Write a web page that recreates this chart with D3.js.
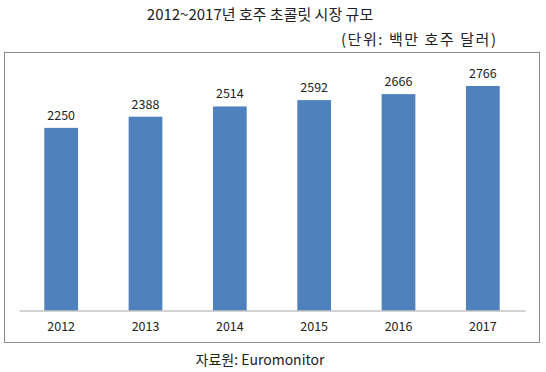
<!DOCTYPE html>
<html>
<head>
<meta charset="utf-8">
<script src="https://cdn.jsdelivr.net/npm/d3@7"></script>
<style>
body { margin:0; background:#fff; }
text { font-family: "Noto Sans CJK KR", "Noto Sans", sans-serif; fill:#222; }
</style>
</head>
<body>
<svg id="chart"></svg>
<script>
var years = ["2012","2013","2014","2015","2016","2017"]
var values = [2250,2388,2514,2592,2666,2766]
var title = "2012~2017년 호주 초콜릿 시장 규모"
var unit = "(단위: 백만 호주 달러)"
var source = "자료원: Euromonitor"

var screen = {width:546,height:372}
var svg = d3.select("#chart")
    .attr("width",screen.width)
    .attr("height",screen.height)

// outer frame
svg.append("rect")
    .attr("x",4.5).attr("y",52.5)
    .attr("width",535).attr("height",290)
    .attr("fill","none")
    .attr("stroke","#8c8c8c")

var xscale = d3.scaleBand()
    .domain(years)
    .range([19,525])
    .paddingInner(0.6)
    .paddingOuter(0.3)

var yscale = d3.scaleLinear()
    .domain([0,3000])
    .range([310.5,67])

svg.selectAll(".bar")
    .data(values)
    .enter()
    .append("rect")
    .attr("class","bar")
    .attr("x",function(d,i){ return xscale(years[i]) })
    .attr("y",function(d){ return yscale(d) })
    .attr("width",xscale.bandwidth())
    .attr("height",function(d){ return yscale(0)-yscale(d) })
    .attr("fill","#4f81bd")

svg.selectAll(".val")
    .data(values)
    .enter()
    .append("text")
    .attr("class","val")
    .attr("x",function(d,i){ return xscale(years[i])+xscale.bandwidth()/2 })
    .attr("y",function(d){ return yscale(d)-8 })
    .attr("text-anchor","middle")
    .attr("font-size","12.5px")
    .text(function(d){ return d })

var xaxis = svg.append("g")
    .attr("transform","translate(0,310.5)")
    .call(d3.axisBottom(xscale).tickSize(0).tickPadding(12))
xaxis.select(".domain").attr("stroke","#a6a6a6")
xaxis.selectAll("text")
    .attr("font-size","12.5px")
    .attr("fill","#222")
    .style("font-family","'Noto Sans CJK KR', sans-serif")

svg.append("text")
    .attr("x",260).attr("y",19.5)
    .attr("text-anchor","middle")
    .attr("font-size","15px")
    .text(title)

// unit note is a bit wider in the original
svg.append("text")
    .attr("x",341).attr("y",44.5)
    .attr("font-size","15px")
    .attr("textLength",155)
    .attr("lengthAdjust","spacing")
    .text(unit)

svg.append("text")
    .attr("x",260).attr("y",364.5)
    .attr("text-anchor","middle")
    .attr("font-size","14px")
    .text(source)
</script>
</body>
</html>
